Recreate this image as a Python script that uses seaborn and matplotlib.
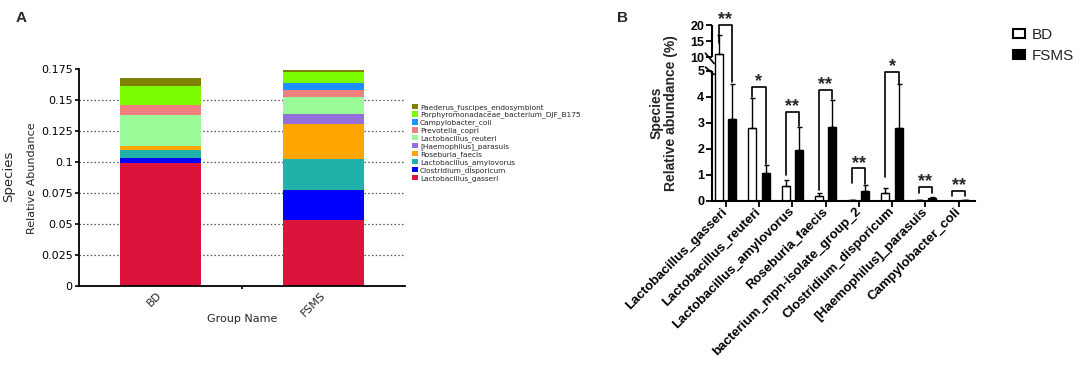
import numpy as np
import pandas as pd
import matplotlib
matplotlib.use("Agg")
import matplotlib.pyplot as plt
import seaborn as sns
from matplotlib.patches import Patch
from matplotlib.ticker import FuncFormatter

sns.set_theme(style="ticks")
plt.rcParams["font.family"] = ["DejaVu Sans"]

# ---------------- Panel A data ----------------
groups_a = ["BD", "FSMS"]
species_a = ["Lactobacillus_gasseri", "Clostridium_disporicum", "Lactobacillus_amylovorus",
             "Roseburia_faecis", "[Haemophilus]_parasuis", "Lactobacillus_reuteri",
             "Prevotella_copri", "Campylobacter_coli", "Porphyromonadaceae_bacterium_DJF_B175",
             "Paederus_fuscipes_endosymbiont"]
bd_a = [0.0997, 0.0041, 0.0062, 0.0032, 0.0002, 0.0245, 0.0081, 0.0002, 0.0150, 0.0065]
fsms_a = [0.0532, 0.0245, 0.0247, 0.0285, 0.0083, 0.0135, 0.0054, 0.0061, 0.0089, 0.0011]
colors_a = ["#DC143C", "#0000FF", "#20B2AA", "#FFA500", "#9370DB", "#98FB98",
            "#F08080", "#1E90FF", "#7CFC00", "#808000"]
yticks_a = [0, 0.025, 0.05, 0.075, 0.1, 0.125, 0.15, 0.175]

# ---------------- Panel B data ----------------
species_b = ["Lactobacillus_gasseri", "Lactobacillus_reuteri", "Lactobacillus_amylovorus",
             "Roseburia_faecis", "bacterium_mpn-isolate_group_2", "Clostridium_disporicum",
             "[Haemophilus]_parasuis", "Campylobacter_coli"]
groups_b = ["BD", "FSMS"]
bd_mean = [11.05, 2.78, 0.56, 0.18, 0.03, 0.31, 0.01, 0.005]
bd_sd = [5.7, 1.16, 0.23, 0.13, 0.01, 0.17, 0.0, 0.0]
fsms_mean = [3.14, 1.05, 1.95, 2.83, 0.37, 2.78, 0.10, 0.02]
fsms_sd = [1.36, 0.33, 0.88, 1.04, 0.23, 1.69, 0.03, 0.01]
sig_b = ["**", "*", "**", "**", "**", "*", "**", "**"]
bracket_top = [20.0, 4.38, 3.41, 4.26, 1.25, 4.96, 0.54, 0.39]
bracket_left = [14.3, 3.98, 1.0, 0.40, 0.67, 0.92, 0.31, 0.18]
bracket_right = [4.55, 1.42, 2.86, 3.90, 0.64, 4.50, 0.31, 0.18]
yticks_b = [0, 1, 2, 3, 4, 5, 10, 15, 20]

W, H = 1084, 365
fig = plt.figure(figsize=(W / 100, H / 100), dpi=100)

# ================= Panel A =================
axA = fig.add_axes([79 / W, (H - 286.3) / H, 326 / W, 217 / H])
vals = np.array([bd_a, fsms_a])          # groups x species
cum = np.cumsum(vals, axis=1)
for i in range(len(species_a) - 1, -1, -1):
    d = pd.DataFrame({"Group": groups_a, "Abundance": cum[:, i]})
    sns.barplot(data=d, x="Group", y="Abundance", order=groups_a, color=colors_a[i],
                saturation=1, width=0.5, errorbar=None, linewidth=0, ax=axA)
axA.set_xlim(-0.5, 1.5)
axA.set_ylim(0, 0.175)
axA.set_yticks(yticks_a)
axA.yaxis.set_major_formatter(FuncFormatter(lambda v, p: "{:g}".format(round(v, 3))))
axA.yaxis.grid(True, linestyle=(0, (1.2, 1.8)), color="#555555", linewidth=0.9)
axA.set_axisbelow(True)
axA.yaxis.get_gridlines()[-1].set_visible(False)
axA.yaxis.get_gridlines()[0].set_visible(False)
for s in ["top", "right"]:
    axA.spines[s].set_visible(False)
for s in ["left", "bottom"]:
    axA.spines[s].set_color("black")
    axA.spines[s].set_linewidth(1.3)
axA.tick_params(axis="y", length=3, width=1.2, labelsize=8, pad=1.5, colors="black")
axA.tick_params(axis="x", which="major", length=0, labelsize=8, pad=5)
axA.set_xticks([0.5], minor=True)
axA.tick_params(axis="x", which="minor", length=2.5, width=1.5)
axA.set_xticks(range(len(groups_a)))
axA.set_xticklabels(groups_a, rotation=45, ha="right", va="center", rotation_mode="anchor")
axA.set_xlabel("")
axA.set_ylabel("")
axA.text(0.5, -0.151, "Group Name", transform=axA.transAxes, ha="center", va="center", fontsize=8)
axA.text(-0.144, 0.5, "Relative Abundance", transform=axA.transAxes, rotation=90,
         ha="center", va="center", fontsize=8)
fig.text(8.5 / W, 1 - 176 / H, "Species", rotation=90, ha="center", va="center", fontsize=9.5)
fig.text(21.5 / W, 1 - 18 / H, "A", ha="center", va="center", fontsize=11,
         fontweight="bold", family="Liberation Sans")

leg_handles = [Patch(facecolor=colors_a[i], edgecolor="none", label=species_a[i])
               for i in range(len(species_a) - 1, -1, -1)]
fig.legend(handles=leg_handles, loc="upper left", bbox_to_anchor=(412 / W, 1 - 103.5 / H),
           frameon=False, fontsize=5.3, handlelength=0.75, handleheight=0.75,
           handletextpad=0.35, labelspacing=0.12, borderpad=0, borderaxespad=0)

# ================= Panel B =================
axB = fig.add_axes([712 / W, (H - 200.7) / H, 263.5 / W, 175.7 / H])
df_b = pd.DataFrame({
    "Species": species_b * 2,
    "Group": [groups_b[0]] * len(species_b) + [groups_b[1]] * len(species_b),
    "Mean": bd_mean + fsms_mean,
})
sns.barplot(data=df_b, x="Species", y="Mean", hue="Group", order=species_b,
            hue_order=groups_b, palette={"BD": "white", "FSMS": "black"},
            edgecolor="black", linewidth=1.0, saturation=1, width=0.8, gap=0.4,
            errorbar=None, legend=False, ax=axB)

sd_all = bd_sd + fsms_sd
xs, ys = [], []
for p in axB.patches[:2 * len(species_b)]:
    xs.append(p.get_x() + p.get_width() / 2)
    ys.append(p.get_height())
xs, ys = np.array(xs), np.array(ys)
axB.errorbar(xs, ys, yerr=[np.zeros(len(sd_all)), np.array(sd_all)], fmt="none",
             ecolor="black", elinewidth=1.0, capsize=1.8, capthick=1.0, zorder=5)

GAP, UP = 0.523, 0.1231


def fwd(v):
    v = np.asarray(v, dtype=float)
    return np.where(v <= 5, v, np.where(v <= 10, 5 + (v - 5) * GAP / 5, 5 + GAP + (v - 10) * UP))


def inv(u):
    u = np.asarray(u, dtype=float)
    return np.where(u <= 5, u, np.where(u <= 5 + GAP, 5 + (u - 5) * 5 / GAP, 10 + (u - 5 - GAP) / UP))


axB.set_yscale("function", functions=(fwd, inv))
axB.set_ylim(0, 20)
axB.set_xlim(-0.405, 7.5)
axB.set_yticks(yticks_b)
axB.set_yticklabels([str(t) for t in yticks_b])
axB.yaxis.set_minor_locator(matplotlib.ticker.NullLocator())
for s in ["top", "right", "left"]:
    axB.spines[s].set_visible(False)
axB.spines["bottom"].set_color("black")
axB.spines["bottom"].set_linewidth(1.5)
axB.tick_params(axis="y", length=4, width=1.3, pad=1.5, labelsize=9, colors="black")
axB.tick_params(axis="x", length=4.5, width=1.3, pad=2, labelsize=9.5, colors="black")
axB.set_xticks(range(len(species_b)))
axB.set_xticklabels(species_b, rotation=45, ha="right", va="center", rotation_mode="anchor")
for lab in axB.get_xticklabels() + axB.get_yticklabels():
    lab.set_fontfamily("Liberation Sans")
    lab.set_fontweight("bold")
axB.set_xlabel("")
axB.set_ylabel("")

# broken left axis
ytr = axB.get_yaxis_transform()
axB.plot([0, 0], [0, 5], transform=ytr, color="black", lw=1.5, clip_on=False, solid_capstyle="butt")
axB.plot([0, 0], [10, 20], transform=ytr, color="black", lw=1.5, clip_on=False, solid_capstyle="butt")
axB.plot([-0.025, 0.008], [11.2, 7.6], transform=ytr, color="black", lw=1.2, clip_on=False)
axB.plot([-0.025, 0.008], [6.3, 4.85], transform=ytr, color="black", lw=1.2, clip_on=False)

# significance brackets
for i in range(len(species_b)):
    xl, xr = xs[i], xs[i + len(species_b)]
    axB.plot([xl, xl, xr, xr], [bracket_left[i], bracket_top[i], bracket_top[i], bracket_right[i]],
             color="black", lw=1.2, clip_on=False, zorder=6)
    axB.annotate(sig_b[i], ((xl + xr) / 2, bracket_top[i]), xytext=(0, 0.3),
                 textcoords="offset points", ha="center", va="baseline", fontsize=13,
                 fontweight="bold", family="Liberation Sans", annotation_clip=False)

axB.text(-0.183, 0.5, "Species\nRelative abundance (%)", transform=axB.transAxes, rotation=90,
         ha="center", va="center", multialignment="center", fontsize=10, fontweight="bold",
         family="Liberation Sans", linespacing=0.95)
fig.text(622.5 / W, 1 - 18 / H, "B", ha="center", va="center", fontsize=11,
         fontweight="bold", family="Liberation Sans")

leg_b = [Patch(facecolor="white", edgecolor="black", linewidth=1.5, label="BD"),
         Patch(facecolor="black", edgecolor="black", linewidth=1.5, label="FSMS")]
fig.legend(handles=leg_b, loc="upper left", bbox_to_anchor=(1013 / W, 1 - 28 / H), frameon=False,
           prop={"family": "Liberation Sans", "size": 11}, handlelength=0.8, handleheight=0.6,
           handletextpad=0.45, labelspacing=0.45, borderpad=0, borderaxespad=0)

fig.savefig("out.png", dpi=100)
